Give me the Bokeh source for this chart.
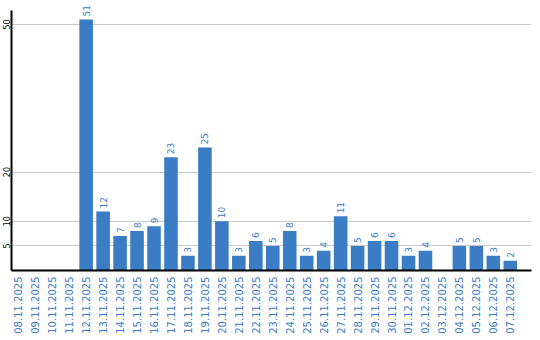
import math
from bokeh.plotting import figure
from bokeh.models import ColumnDataSource, Range1d, FixedTicker
from bokeh.embed import file_html
from bokeh.resources import INLINE

dates = ["08.11.2025", "09.11.2025", "10.11.2025", "11.11.2025", "12.11.2025",
         "13.11.2025", "14.11.2025", "15.11.2025", "16.11.2025", "17.11.2025",
         "18.11.2025", "19.11.2025", "20.11.2025", "21.11.2025", "22.11.2025",
         "23.11.2025", "24.11.2025", "25.11.2025", "26.11.2025", "27.11.2025",
         "28.11.2025", "29.11.2025", "30.11.2025", "01.12.2025", "02.12.2025",
         "03.12.2025", "04.12.2025", "05.12.2025", "06.12.2025", "07.12.2025"]
values = [0, 0, 0, 0, 51, 12, 7, 8, 9, 23, 3, 25, 10, 3, 6, 5, 8, 3, 4, 11,
          5, 6, 6, 3, 4, 0, 5, 5, 3, 2]
y_ticks = [5, 10, 20, 50]

BLUE = "#3b7dc4"

xs = list(range(len(dates)))
src = ColumnDataSource(dict(x=xs, v=values))
lab_idx = [i for i, v in enumerate(values) if v > 0]
lab_src = ColumnDataSource(dict(x=[xs[i] for i in lab_idx],
                                v=[values[i] for i in lab_idx],
                                t=[str(values[i]) for i in lab_idx]))

p = figure(width=540, height=340, output_backend="svg", toolbar_location=None,
           x_range=Range1d(-0.4, 30.25), y_range=Range1d(0, 54.85),
           min_border_left=10, min_border_right=9, min_border_top=0,
           min_border_bottom=70)
p.outline_line_color = None
p.background_fill_color = "white"

p.vbar(x="x", top="v", width=0.8, source=src, color=BLUE, line_color=None)
p.text(x="x", y="v", text="t", source=lab_src, angle=math.pi / 2,
       text_align="left", text_baseline="middle", y_offset=-3,
       text_color=BLUE, text_font_size="9px", text_font={"value": "DejaVu Sans"})

p.xgrid.visible = False
p.ygrid.ticker = FixedTicker(ticks=y_ticks)
p.ygrid.grid_line_color = "#c8c8c8"
p.ygrid.grid_line_width = 1

ya = p.yaxis[0]
ya.ticker = FixedTicker(ticks=y_ticks)
ya.bounds = (0, 52.8)
ya.major_tick_line_color = None
ya.minor_tick_line_color = None
ya.major_tick_out = 0
ya.major_tick_in = 0
ya.major_label_orientation = "vertical"
ya.major_label_standoff = 1
ya.major_label_text_font = "DejaVu Sans"
ya.major_label_text_font_size = "8px"
ya.major_label_text_color = "black"
ya.axis_line_color = "black"
ya.axis_line_width = 2

xa = p.xaxis[0]
xa.ticker = FixedTicker(ticks=xs)
xa.major_label_overrides = {i: d for i, d in zip(xs, dates)}
xa.major_tick_line_color = None
xa.minor_tick_line_color = None
xa.major_tick_out = 0
xa.major_tick_in = 0
xa.major_label_orientation = math.pi / 2
xa.major_label_standoff = 6
xa.major_label_text_font = "DejaVu Sans"
xa.major_label_text_font_size = "10px"
xa.major_label_text_color = BLUE
xa.axis_line_color = "black"
xa.axis_line_width = 2

open("out.html", "w").write(file_html(p, INLINE))
